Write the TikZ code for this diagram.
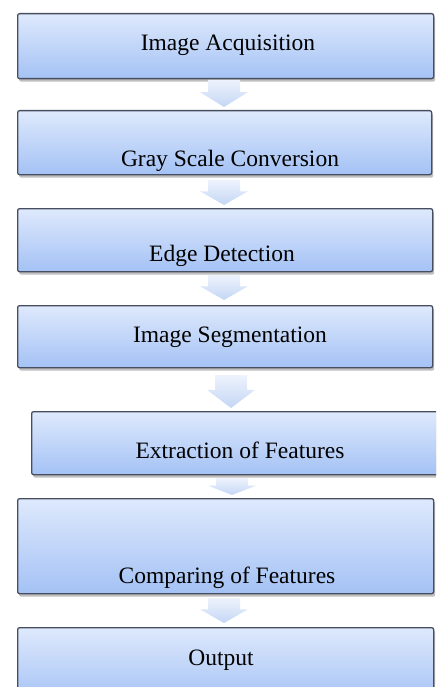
\documentclass[tikz,border=0pt]{standalone}
\usepackage{fontspec}
\setmainfont{Liberation Serif}
\usetikzlibrary{shadows,calc}
\definecolor{boxtop}{RGB}{222,233,252}
\definecolor{boxbot}{RGB}{164,194,245}
\definecolor{boxline}{RGB}{70,78,95}
\definecolor{arrtop}{RGB}{238,243,253}
\definecolor{arrbot}{RGB}{196,214,244}
\tikzset{
  box/.style={draw=boxline, line width=1.3pt, rounded corners=2pt,
    top color=boxtop, bottom color=boxbot,
    drop shadow={shadow xshift=1.5pt, shadow yshift=-3pt, opacity=0.25, fill=black},
    inner sep=0pt},
  lbl/.style={font=\fontsize{23.5}{26}\selectfont, anchor=base, inner sep=0pt},
  flowarrow/.style={top color=arrtop, bottom color=arrbot, draw=none}
}
\newcommand{\blockarr}[3]{% cx, ytop, ybot
  \path[flowarrow] ({#1-16},#2) -- ({#1+16},#2) -- ({#1+16},{#2+0.45*(#3-#2)})
    -- ({#1+24},{#2+0.45*(#3-#2)}) -- (#1,#3) -- ({#1-24},{#2+0.45*(#3-#2)})
    -- ({#1-16},{#2+0.45*(#3-#2)}) -- cycle;}
\begin{document}
\begin{tikzpicture}[x=1pt,y=-1pt]
\useasboundingbox (0,0) rectangle (436,687);
\clip (0,0) rectangle (436,687);
\node[box, anchor=north west, minimum width=416pt, minimum height=65pt] (b1) at (17,13) {};
\node[box, anchor=north west, minimum width=414pt, minimum height=64pt] (b2) at (17,110) {};
\node[box, anchor=north west, minimum width=415pt, minimum height=63pt] (b3) at (17,208) {};
\node[box, anchor=north west, minimum width=415pt, minimum height=62pt] (b4) at (17,305) {};
\node[box, anchor=north west, minimum width=412pt, minimum height=63pt] (b5) at (31,411) {};
\node[box, anchor=north west, minimum width=416pt, minimum height=95pt] (b6) at (17,498) {};
\node[box, anchor=north west, minimum width=416pt, minimum height=75pt] (b7) at (17,627) {};

\node[lbl] (t1) at (228,51) {Image Acquisition};
\node[lbl] (t2) at (230,167) {Gray Scale Conversion};
\node[lbl] (t3) at (222,261) {Edge Detection};
\node[lbl] (t4) at (230,342) {Image Segmentation};
\node[lbl] (t5) at (240,458) {Extraction of Features};
\node[lbl] (t6) at (227,583) {Comparing of Features};
\node[lbl] (t7) at (221,665) {Output};

\blockarr{224}{80}{107}
\blockarr{224}{180}{205}
\blockarr{224}{275}{300}
\blockarr{231}{375}{408}
\blockarr{232}{478}{495}
\blockarr{224}{598}{623}
\end{tikzpicture}
\end{document}
